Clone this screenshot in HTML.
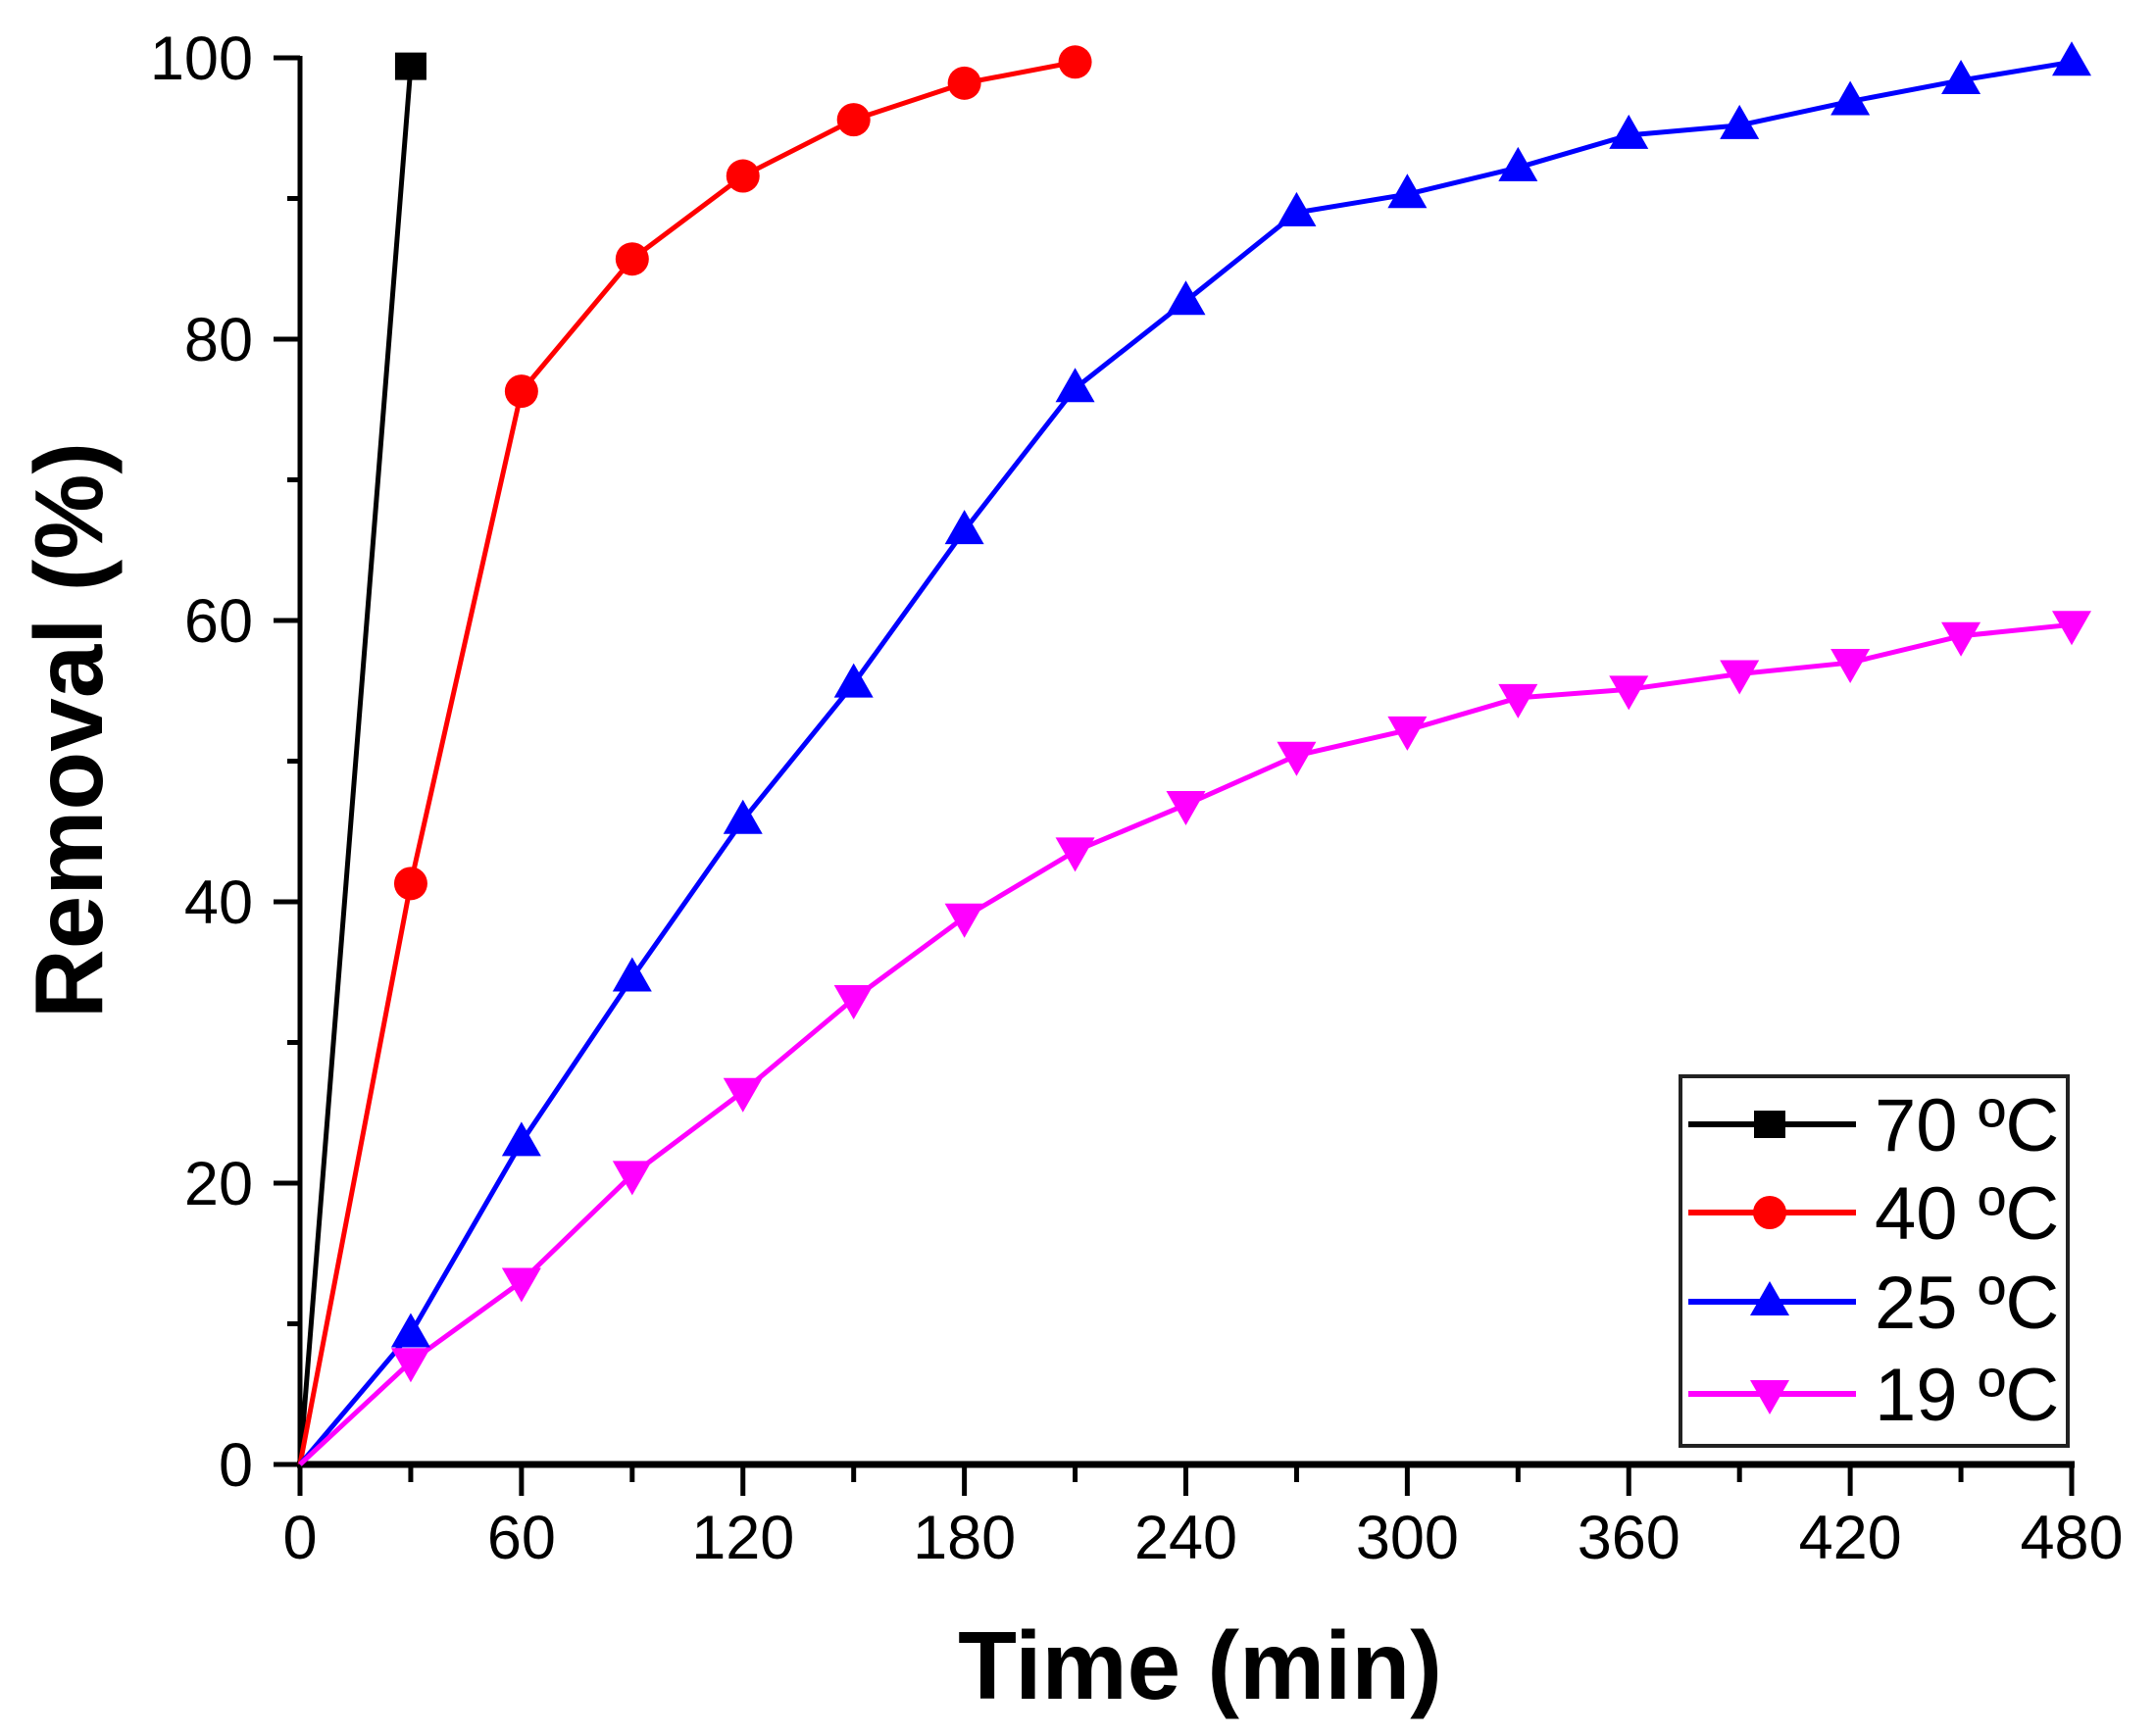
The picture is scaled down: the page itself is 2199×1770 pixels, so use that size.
<!DOCTYPE html>
<html><head><meta charset="utf-8"><style>html,body{margin:0;padding:0;background:#fff}svg{display:block}</style></head>
<body>
<svg xmlns="http://www.w3.org/2000/svg" width="2199" height="1770" viewBox="0 0 2199 1770">
<g id="plot"></g>
<script>
(function(){
const ns="http://www.w3.org/2000/svg";
const g=document.getElementById('plot');
const X0=306,X1=2113,Y0=1494,Y1=59;
const X=t=>X0+t*(X1-X0)/480, Y=v=>Y0-v*(Y0-Y1)/100;
function el(n,a,p){const e=document.createElementNS(ns,n);for(const k in a)e.setAttribute(k,a[k]);(p||g).appendChild(e);return e;}
const s=[
 {c:'#000',m:'sq',d:[[0,0],[30,99.4]]},
 {c:'#ff0000',m:'ci',d:[[0,0],[30,41.3],[60,76.3],[90,85.7],[120,91.6],[150,95.6],[180,98.2],[210,99.7]]},
 {c:'#0000ff',m:'up',d:[[0,0],[30,9.3],[60,22.9],[90,34.6],[120,45.8],[150,55.5],[180,66.4],[210,76.5],[240,82.7],[270,89],[300,90.3],[330,92.2],[360,94.5],[390,95.2],[420,96.9],[450,98.4],[480,99.7]]},
 {c:'#ff00ff',m:'dn',d:[[0,0],[30,7.3],[60,13],[90,20.6],[120,26.5],[150,33.1],[180,38.9],[210,43.6],[240,46.9],[270,50.4],[300,52.2],[330,54.5],[360,55.1],[390,56.2],[420,57],[450,58.9],[480,59.7]]}
];
function mk(type,x,y,c){
 if(type==='sq')el('rect',{x:x-16,y:y-14,width:32,height:28,fill:c});
 else if(type==='ci')el('circle',{cx:x,cy:y,r:17,fill:c});
 else if(type==='up')el('polygon',{points:`${x},${y-21} ${x+20},${y+14} ${x-20},${y+14}`,fill:c});
 else el('polygon',{points:`${x},${y+21} ${x+20},${y-14} ${x-20},${y-14}`,fill:c});
}
el('line',{x1:X0,y1:57,x2:X0,y2:Y0+3,stroke:'#000','stroke-width':5});
el('line',{x1:X0-3,y1:Y0,x2:X1+3,y2:Y0,stroke:'#000','stroke-width':7});
for(let v=0;v<=100;v+=10){const y=Y(v),maj=v%20==0;el('line',{x1:X0-(maj?27:13),y1:y,x2:X0,y2:y,stroke:'#000','stroke-width':5});
 if(maj){const t=el('text',{x:258,y:y+22,'font-size':63,'text-anchor':'end','font-family':'Liberation Sans, sans-serif'});t.textContent=v;}}
for(let t=0;t<=480;t+=30){const x=X(t),maj=t%60==0;el('line',{x1:x,y1:Y0,x2:x,y2:Y0+(maj?32:18),stroke:'#000','stroke-width':5});
 if(maj){const e=el('text',{x:x,y:1590,'font-size':63,'text-anchor':'middle','font-family':'Liberation Sans, sans-serif'});e.textContent=t;}}
s.forEach(o=>{el('polyline',{points:o.d.map(p=>X(p[0])+','+Y(p[1])).join(' '),fill:'none',stroke:o.c,'stroke-width':5,'stroke-linejoin':'round'});});
s.forEach(o=>o.d.slice(1).forEach(p=>mk(o.m,X(p[0]),Y(p[1]),o.c)));
el('rect',{x:1714,y:1098,width:395,height:377,fill:'#fff',stroke:'#222','stroke-width':4});
const labs=['70 ºC','40 ºC','25 ºC','19 ºC'];
[1147,1237,1328,1422].forEach((y,i)=>{el('line',{x1:1722,y1:y,x2:1893,y2:y,stroke:s[i].c,'stroke-width':6});mk(s[i].m,1805,y,s[i].c);
 const t=el('text',{x:1912,y:y+27,'font-size':76,'font-family':'Liberation Sans, sans-serif'});t.textContent=labs[i];});
const xt=el('text',{x:1224,y:1733,'font-size':98,'font-weight':'bold','text-anchor':'middle','font-family':'Liberation Sans, sans-serif'});xt.textContent='Time (min)';
const yt=el('text',{x:0,y:0,'font-size':98,'font-weight':'bold','text-anchor':'middle','font-family':'Liberation Sans, sans-serif',transform:'translate(104,745) rotate(-90)'});yt.textContent='Removal  (%)';
})();
</script>
</svg>
</body></html>
